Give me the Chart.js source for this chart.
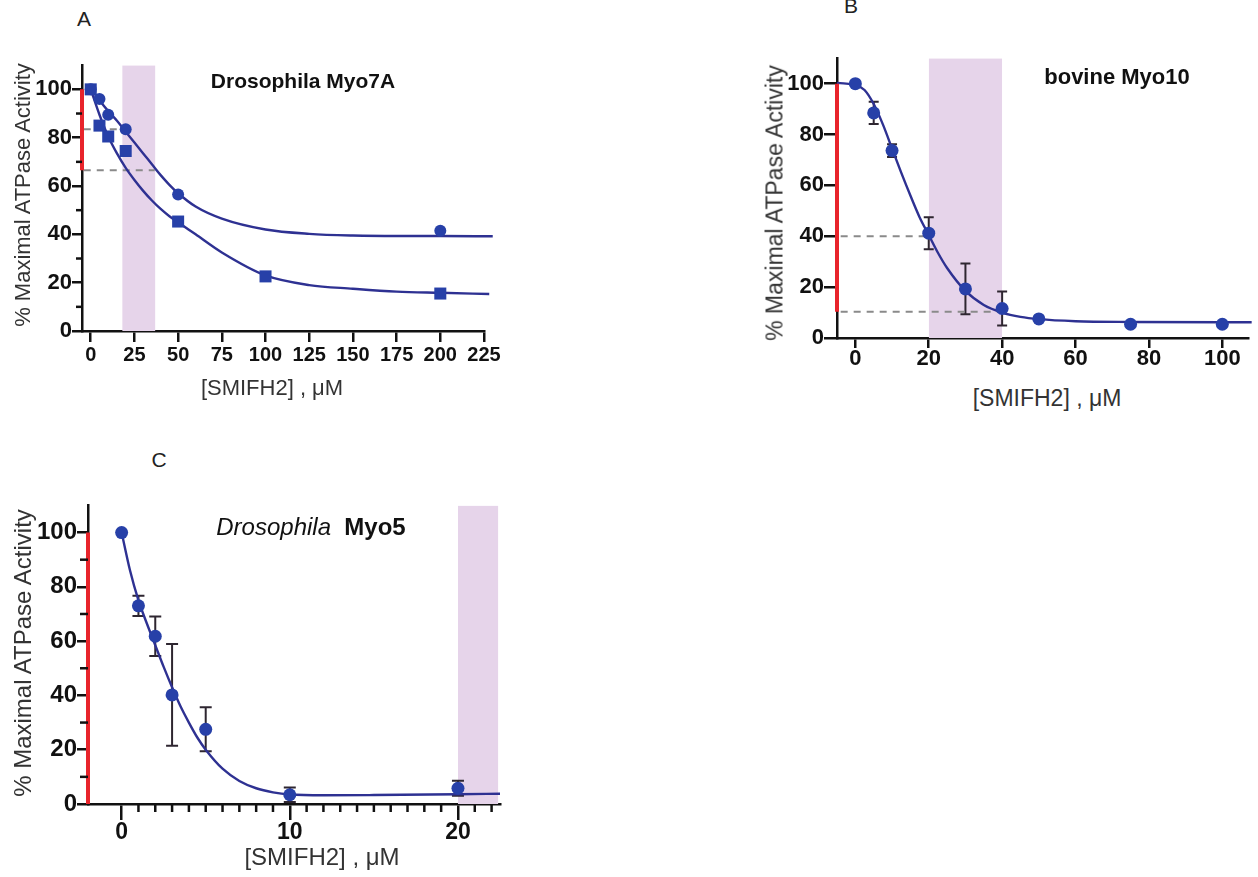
<!DOCTYPE html>
<html>
<head>
<meta charset="utf-8">
<script src="https://cdn.jsdelivr.net/npm/chart.js@4.4.1/dist/chart.umd.min.js"></script>
<style>
    html, body { margin: 0; padding: 0; background: #fff; }
    body { width: 1258px; height: 877px; position: relative; overflow: hidden; font-family: "Liberation Sans", Arial, sans-serif; }
    canvas { position: absolute; }
    .txt { position: absolute; white-space: nowrap; transform: translate(-50%, -50%); color: #111; }
    .ylab { transform: translate(-50%, -50%) rotate(-90deg); color: #333; }
    .xlab { color: #333; }
    .letter { color: #222; font-weight: 300; }
</style>
</head>
<body>
<canvas id="chartA" style="left:12px;top:52px" width="492" height="324"></canvas>
<canvas id="chartB" style="left:767px;top:45px" width="491" height="338"></canvas>
<canvas id="chartC" style="left:18px;top:491px" width="502" height="358"></canvas>

<div class="txt letter" style="left:84px;top:19px;font-size:21px">A</div>
<div class="txt letter" style="left:851px;top:6px;font-size:21px">B</div>
<div class="txt letter" style="left:159px;top:460px;font-size:21px">C</div>

<div class="txt" style="left:303px;top:81px;font-size:21px;font-weight:bold">Drosophila Myo7A</div>
<div class="txt" style="left:1117px;top:77px;font-size:22px;font-weight:bold">bovine Myo10</div>
<div class="txt" style="left:311px;top:527px;font-size:24px"><i>Drosophila</i>&nbsp; <b>Myo5</b></div>

<div class="txt ylab" style="left:23px;top:195px;font-size:22px">% Maximal ATPase Activity</div>
<div class="txt ylab" style="left:775px;top:203px;font-size:23px">% Maximal ATPase Activity</div>
<div class="txt ylab" style="left:23px;top:653px;font-size:24px">% Maximal ATPase Activity</div>

<div class="txt xlab" style="left:272px;top:388px;font-size:22px">[SMIFH2] , μM</div>
<div class="txt xlab" style="left:1047px;top:398px;font-size:23px">[SMIFH2] , μM</div>
<div class="txt xlab" style="left:322px;top:857px;font-size:24px">[SMIFH2] , μM</div>

<script>
// ---- panel A: Drosophila Myo7A ----
const myo7aCircleX = [0, 5, 10, 20, 50, 200];
const myo7aCircleY = [100, 96, 89.5, 83.5, 56.5, 41.5];
const myo7aSquareX = [0, 5, 10, 20, 50, 100, 200];
const myo7aSquareY = [100, 85, 80.5, 74.5, 45.3, 22.6, 15.5];
const myo7aCircleFitX = [0, 5, 10, 15, 20, 25, 30, 35, 40, 45, 50, 60, 75, 100, 125, 150, 175, 200, 230];
const myo7aCircleFitY = [100.5, 95.5, 91, 87, 82.5, 78, 73.5, 69, 64.5, 60.5, 57, 51.5, 46.5, 42, 40.2, 39.5, 39.3, 39.3, 39.2];
const myo7aSquareFitX = [0, 5, 10, 15, 20, 25, 30, 35, 40, 45, 50, 60, 75, 100, 125, 150, 175, 200, 228];
const myo7aSquareFitY = [100, 89.5, 80.5, 73.5, 67.5, 62.5, 58, 54, 50.5, 47.5, 45, 40, 32.5, 23, 19, 17.5, 16.3, 15.8, 15.3];
const myo7aBand = [18, 37];
const myo7aRed = [100, 66.5];
const myo7aDashY = [83.5, 66.5];
const myo7aDashEnd = [18, 36.6];
const myo7aXTicks = [0, 25, 50, 75, 100, 125, 150, 175, 200, 225];
const myo7aYTicks = [0, 20, 40, 60, 80, 100];

// ---- panel B: bovine Myo10 ----
const myo10X = [0, 5, 10, 20, 30, 40, 50, 75, 100];
const myo10Y = [100, 88.5, 73.7, 41.2, 19.3, 11.6, 7.5, 5.4, 5.4];
const myo10Err = [0, 4.4, 2.5, 6.3, 10, 6.7, 0, 0, 0];
const myo10FitX = [-5, -2.5, 0, 2.5, 5, 7.5, 10, 12.5, 15, 17.5, 20, 22.5, 25, 30, 35, 40, 45, 50, 60, 75, 100, 108];
const myo10FitY = [100.3, 100, 99.5, 97.5, 92, 84, 74.5, 65, 56, 47.5, 40.5, 33.5, 27.5, 18.5, 13, 10, 8.3, 7.4, 6.6, 6.3, 6.2, 6.2];
const myo10Band = [20, 40];
const myo10Red = [100, 10.3];
const myo10DashY = [40, 10.3];
const myo10DashEnd = [19.5, 40];
const myo10XTicks = [0, 20, 40, 60, 80, 100];
const myo10YTicks = [0, 20, 40, 60, 80, 100];

// ---- panel C: Drosophila Myo5 ----
const myo5X = [0, 1, 2, 3, 5, 10, 20];
const myo5Y = [100, 73, 61.8, 40.2, 27.5, 3.4, 5.8];
const myo5Err = [0, 3.7, 7.3, 18.7, 8.1, 2.7, 2.8];
const myo5FitX = [0, 0.5, 1, 1.5, 2, 2.5, 3, 3.5, 4, 4.5, 5, 6, 7, 8, 9, 10, 12, 15, 20, 22.5];
const myo5FitY = [100, 86, 75, 66.5, 58.5, 50.5, 43, 36, 30, 24.5, 20, 13, 8.5, 5.8, 4.3, 3.5, 3.2, 3.3, 3.6, 3.8];
const myo5Band = [20, 22.4];
const myo5Red = [100, 0];
const myo5XTicks = [0, 10, 20];
const myo5XMinor = [1, 2, 3, 4, 5, 6, 7, 8, 9, 11, 12, 13, 14, 15, 16, 17, 18, 19, 21, 22];
const myo5YTicks = [0, 20, 40, 60, 80, 100];

const minorY = [10, 30, 50, 70, 90];

const POINT = '#2740a8';
const CURVE = '#2e3192';
const BAND = '#e6d4ea';
const RED = '#e8242b';
const AXIS = '#111';
const FONT = '"Liberation Sans", Arial, sans-serif';

const pts = (xs, ys) => xs.map((x, i) => ({ x: x, y: ys[i] }));

// short ticks between the labelled ones
const minorTicks = {
    id: 'minorTicks',
    afterDraw(chart, args, opts) {
        const ctx = chart.ctx;
        const area = chart.chartArea;
        ctx.save();
        ctx.strokeStyle = AXIS;
        ctx.lineWidth = 2.5;
        (opts.y || []).forEach(v => {
            const py = chart.scales.y.getPixelForValue(v);
            ctx.beginPath();
            ctx.moveTo(area.left - opts.len, py);
            ctx.lineTo(area.left, py);
            ctx.stroke();
        });
        (opts.x || []).forEach(v => {
            const px = chart.scales.x.getPixelForValue(v);
            ctx.beginPath();
            ctx.moveTo(px, area.bottom);
            ctx.lineTo(px, area.bottom + opts.len);
            ctx.stroke();
        });
        ctx.restore();
    }
};

// error bars, drawn right after the shaded band
const errorBars = {
    id: 'errorBars',
    afterDatasetDraw(chart, args, opts) {
        if (args.index !== 0 || !opts.err) return;
        const ctx = chart.ctx;
        const xs = chart.scales.x, ys = chart.scales.y;
        ctx.save();
        ctx.strokeStyle = '#2e2630';
        ctx.lineWidth = 2;
        opts.xs.forEach((x, i) => {
            const e = opts.err[i];
            if (!e) return;
            const px = xs.getPixelForValue(x);
            const top = ys.getPixelForValue(opts.ys[i] + e);
            const bot = ys.getPixelForValue(opts.ys[i] - e);
            ctx.beginPath();
            ctx.moveTo(px, top); ctx.lineTo(px, bot);
            ctx.moveTo(px - opts.cap, top); ctx.lineTo(px + opts.cap, top);
            ctx.moveTo(px - opts.cap, bot); ctx.lineTo(px + opts.cap, bot);
            ctx.stroke();
        });
        ctx.restore();
    }
};

function bandSet(range) {
    return { data: [{ x: range[0], y: 110 }, { x: range[1], y: 110 }], showLine: true, fill: 'origin',
             backgroundColor: BAND, borderWidth: 0, pointRadius: 0, order: 9 };
}
function dashSet(y, xStart, xEnd) {
    return { data: [{ x: xStart, y: y }, { x: xEnd, y: y }], showLine: true, borderColor: '#8a8a8a',
             borderWidth: 2, borderDash: [7, 6], pointRadius: 0, order: 6, clip: false };
}
function curveSet(xs, ys) {
    return { data: pts(xs, ys), showLine: true, borderColor: CURVE, borderWidth: 2.4, pointRadius: 0,
             cubicInterpolationMode: 'monotone', order: 4, clip: false };
}
function pointSet(xs, ys, style, r) {
    return { data: pts(xs, ys), showLine: false, pointStyle: style, pointRadius: r,
             backgroundColor: POINT, borderColor: POINT, borderWidth: 0, order: 2, clip: false };
}
function redSet(x, range) {
    return { data: [{ x: x, y: range[0] }, { x: x, y: range[1] }], showLine: true, borderColor: RED,
             borderWidth: 4, pointRadius: 0, order: 0, clip: false };
}

function makeChart(id, cfg) {
    const axisGrid = len => ({ display: true, drawOnChartArea: false, drawTicks: true, tickLength: len,
                               color: AXIS, lineWidth: 2.5 });
    new Chart(document.getElementById(id), {
        type: 'scatter',
        data: { datasets: cfg.datasets },
        plugins: [minorTicks, errorBars],
        options: {
            responsive: false,
            animation: false,
            events: [],
            layout: { padding: { top: 12, right: cfg.padRight, left: 0, bottom: 0 } },
            plugins: {
                legend: { display: false },
                tooltip: { enabled: false },
                minorTicks: cfg.minor,
                errorBars: cfg.errors || {}
            },
            scales: {
                x: {
                    type: 'linear', min: cfg.xMin, max: cfg.xMax,
                    afterFit: s => { s.height = 45; },
                    afterBuildTicks: s => { s.ticks = cfg.xTicks.map(v => ({ value: v })); },
                    grid: axisGrid(cfg.xTickLen),
                    border: { display: true, color: AXIS, width: 2.5 },
                    ticks: { autoSkip: false, maxRotation: 0, padding: cfg.xPad, color: AXIS,
                             font: { family: FONT, size: cfg.tickSize, weight: 'bold' } }
                },
                y: {
                    type: 'linear', min: 0, max: 110,
                    afterFit: s => { s.width = 70; },
                    afterBuildTicks: s => { s.ticks = cfg.yTicks.map(v => ({ value: v })); },
                    grid: axisGrid(cfg.yTickLen),
                    border: { display: true, color: AXIS, width: 2.5 },
                    ticks: { padding: 0, color: AXIS,
                             font: { family: FONT, size: cfg.yTickSize, weight: 'bold' } }
                }
            }
        }
    });
}

makeChart('chartA', {
    xMin: -5, xMax: 225, xTicks: myo7aXTicks, yTicks: myo7aYTicks,
    xTickLen: 11, yTickLen: 10, xPad: 1, tickSize: 20, yTickSize: 22, padRight: 20,
    minor: { y: minorY, len: 6 },
    datasets: [
        bandSet(myo7aBand),
        dashSet(myo7aDashY[0], -4, myo7aDashEnd[0]),
        dashSet(myo7aDashY[1], -4, myo7aDashEnd[1]),
        curveSet(myo7aCircleFitX, myo7aCircleFitY),
        curveSet(myo7aSquareFitX, myo7aSquareFitY),
        pointSet(myo7aCircleX, myo7aCircleY, 'circle', 6),
        pointSet(myo7aSquareX, myo7aSquareY, 'rect', 8.5),
        redSet(-5, myo7aRed)
    ]
});

makeChart('chartB', {
    xMin: -5, xMax: 107, xTicks: myo10XTicks, yTicks: myo10YTicks,
    xTickLen: 10, yTickLen: 13, xPad: -2, tickSize: 22, yTickSize: 22, padRight: 10,
    minor: {},
    errors: { xs: myo10X, ys: myo10Y, err: myo10Err, cap: 5 },
    datasets: [
        bandSet(myo10Band),
        dashSet(myo10DashY[0], -4, myo10DashEnd[0]),
        dashSet(myo10DashY[1], -4, myo10DashEnd[1]),
        curveSet(myo10FitX, myo10FitY),
        pointSet(myo10X, myo10Y, 'circle', 6.5),
        redSet(-5, myo10Red)
    ]
});

makeChart('chartC', {
    xMin: -2, xMax: 22.5, xTicks: myo5XTicks, yTicks: myo5YTicks,
    xTickLen: 16, yTickLen: 11, xPad: -1, tickSize: 23, yTickSize: 24, padRight: 20,
    minor: { y: minorY, x: myo5XMinor, len: 8 },
    errors: { xs: myo5X, ys: myo5Y, err: myo5Err, cap: 6 },
    datasets: [
        bandSet(myo5Band),
        curveSet(myo5FitX, myo5FitY),
        pointSet(myo5X, myo5Y, 'circle', 6.5),
        redSet(-2, myo5Red)
    ]
});
</script>
</body>
</html>
